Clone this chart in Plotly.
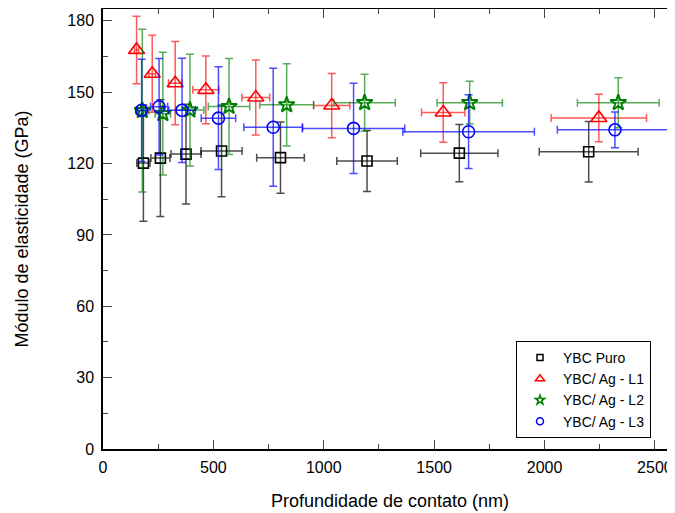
import plotly.graph_objects as go

# --- data ---
series_names = ["YBC Puro", "YBC/ Ag - L1", "YBC/ Ag - L2", "YBC/ Ag - L3"]

puro_x = [183, 260, 376, 537, 804, 1196, 1614, 2200]
puro_y = [120.2, 122.3, 124.0, 125.3, 122.5, 121.1, 124.4, 125.0]
puro_ey = [24.4, 24.5, 21.0, 19.2, 15.0, 12.8, 12.0, 12.7]
puro_ex = [30, 43, 68, 93, 108, 137, 175, 224]

l1_x = [152, 223, 327, 466, 692, 1036, 1541, 2246]
l1_y = [167.8, 157.8, 153.8, 151.0, 147.8, 144.4, 141.5, 139.2]
l1_ey = [14.2, 16.2, 17.5, 14.2, 15.8, 13.5, 12.5, 10.0]
l1_ex = [10, 15, 30, 59, 63, 82, 98, 216]

l2_x = [178, 271, 394, 571, 832, 1185, 1661, 2334]
l2_y = [142.3, 141.0, 142.5, 144.0, 144.7, 145.6, 145.6, 145.6]
l2_ey = [34.2, 25.8, 23.5, 20.2, 17.3, 12.0, 9.0, 10.5]
l2_ex = [30, 35, 63, 94, 122, 139, 148, 185]

l3_x = [175, 254, 358, 523, 771, 1135, 1656, 2319]
l3_y = [142.4, 143.9, 142.4, 139.1, 135.3, 134.8, 133.4, 134.2]
l3_ey = [21.5, 20.3, 21.9, 21.6, 24.8, 19.0, 15.5, 7.5]
l3_ex = [20, 39, 60, 78, 133, 232, 298, 261]

x_ticks = [0, 500, 1000, 1500, 2000, 2500]
y_ticks = [0, 30, 60, 90, 120, 150, 180]

colors = ["#000000", "#ff0000", "#008000", "#0000ff"]
err_colors = ["rgba(0,0,0,0.7)", "rgba(255,0,0,0.65)", "rgba(0,128,0,0.65)", "rgba(0,0,255,0.7)"]
symbols = ["square-open", "triangle-up-open", "star-open", "circle-open"]
sizes = [10, 14, 12, 12]
legend_sizes = [6, 8, 7, 7]

data = [
    (puro_x, puro_y, puro_ex, puro_ey),
    (l1_x, l1_y, l1_ex, l1_ey),
    (l2_x, l2_y, l2_ex, l2_ey),
    (l3_x, l3_y, l3_ex, l3_ey),
]

FONT = "Liberation Sans, Arial, sans-serif"

fig = go.Figure()
for i, (xs, ys, exs, eys) in enumerate(data):
    fig.add_trace(go.Scatter(
        x=xs, y=ys, mode="markers", name=series_names[i], showlegend=False,
        marker=dict(symbol=symbols[i], size=sizes[i], color=colors[i],
                    line=dict(color=colors[i], width=2 if i == 2 else 1.6)),
        error_y=dict(type="data", array=eys, visible=True, color=err_colors[i],
                     thickness=1.5, width=4),
        error_x=dict(type="data", array=exs, visible=True, color=err_colors[i],
                     thickness=1.5, width=4),
    ))

# legend entries with small markers
for i in range(4):
    fig.add_trace(go.Scatter(
        x=[None], y=[None], mode="markers", name=series_names[i],
        marker=dict(symbol=symbols[i], size=legend_sizes[i], color=colors[i],
                    line=dict(color=colors[i], width=1.5)),
    ))

fig.update_layout(
    width=675, height=513,
    margin=dict(l=95, r=6, t=1, b=72),
    paper_bgcolor="white", plot_bgcolor="white",
    font=dict(family=FONT, size=16, color="black"),
    showlegend=True,
    legend=dict(
        x=0.7195, y=0.2455, xanchor="left", yanchor="top",
        bordercolor="black", borderwidth=1, bgcolor="white",
        font=dict(family=FONT, size=14, color="black"),
        tracegroupgap=0, itemwidth=36,
    ),
    xaxis=dict(
        range=[0, 2600], tickvals=x_ticks, ticks="inside", ticklen=9, tickwidth=1.3,
        showline=True, linecolor="black", linewidth=1.5, mirror="ticks",
        showgrid=False, zeroline=False, automargin=False, ticklabelstandoff=3,
        minor=dict(dtick=250, ticks="inside", ticklen=5, tickwidth=1.3, showgrid=False),
        title=dict(text="Profundidade de contato (nm)", font=dict(size=18), standoff=19),
        tickfont=dict(size=16),
    ),
    yaxis=dict(
        range=[0, 185], tickvals=y_ticks, ticks="inside", ticklen=9, tickwidth=1.3,
        showline=True, linecolor="black", linewidth=1.5, mirror="ticks",
        showgrid=False, zeroline=False, automargin=False, ticklabelstandoff=4,
        minor=dict(dtick=15, ticks="inside", ticklen=5, tickwidth=1.3, showgrid=False),
        title=dict(text="Módulo de elasticidade (GPa)", font=dict(size=18), standoff=34),
        tickfont=dict(size=16),
    ),
)

fig.write_html("out.html")
